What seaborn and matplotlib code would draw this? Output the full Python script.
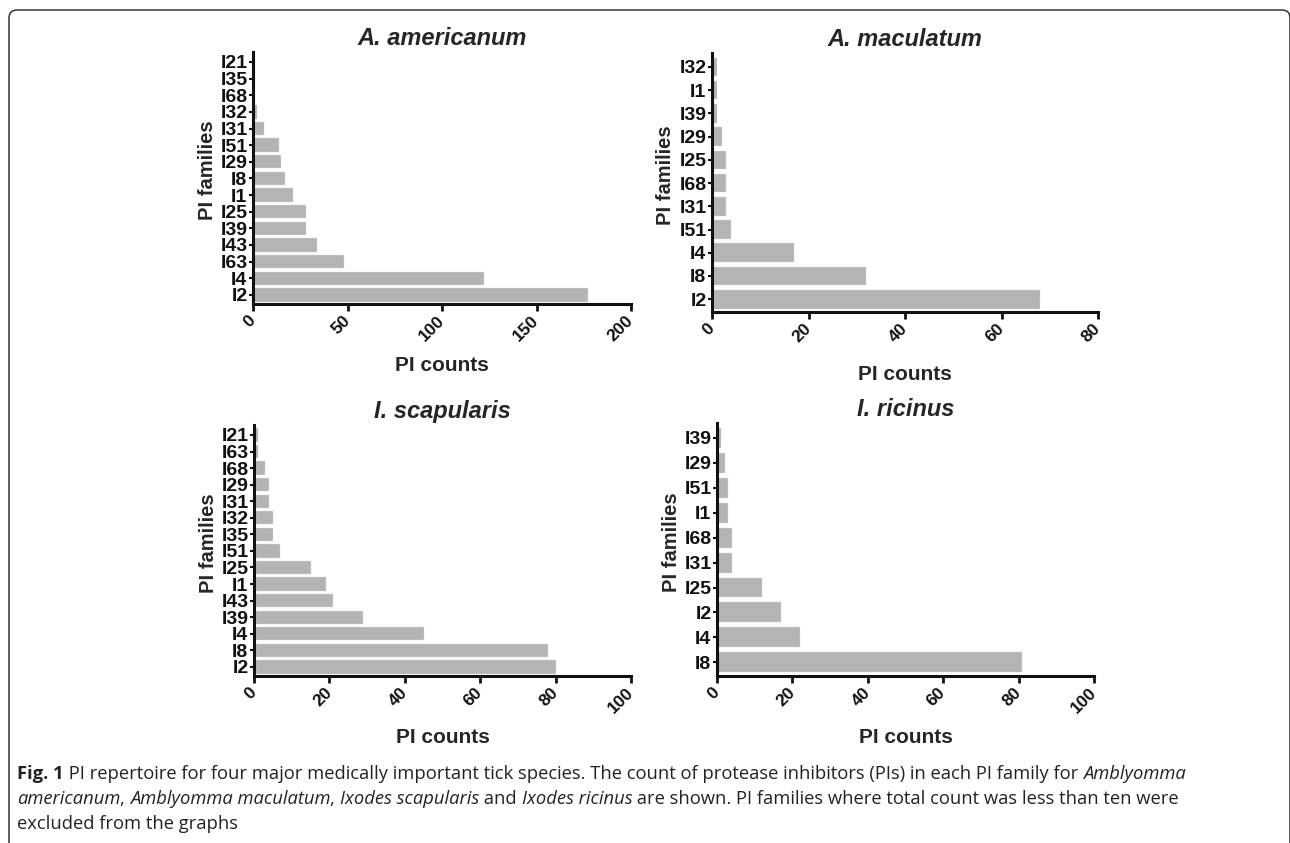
import matplotlib
matplotlib.use('Agg')
import matplotlib.pyplot as plt
import seaborn as sns
import pandas as pd
from matplotlib.patches import FancyBboxPatch

# PI counts per family, listed top-to-bottom as in the figure
am_families = ['I21', 'I35', 'I68', 'I32', 'I31', 'I51', 'I29', 'I8', 'I1',
               'I25', 'I39', 'I43', 'I63', 'I4', 'I2']
am_counts = [1, 1, 1, 2, 6, 14, 15, 17, 21, 28, 28, 34, 48, 122, 177]

mac_families = ['I32', 'I1', 'I39', 'I29', 'I25', 'I68', 'I31', 'I51', 'I4', 'I8', 'I2']
mac_counts = [1, 1, 1, 2, 3, 3, 3, 4, 17, 32, 68]

sc_families = ['I21', 'I63', 'I68', 'I29', 'I31', 'I32', 'I35', 'I51', 'I25',
               'I1', 'I43', 'I39', 'I4', 'I8', 'I2']
sc_counts = [1, 1, 3, 4, 4, 5, 5, 7, 15, 19, 21, 29, 45, 78, 80]

ric_families = ['I39', 'I29', 'I51', 'I1', 'I68', 'I31', 'I25', 'I2', 'I4', 'I8']
ric_counts = [1, 2, 3, 3, 4, 4, 12, 17, 22, 81]

titles = ['A. americanum', 'A. maculatum', 'I. scapularis', 'I. ricinus']
x_max = [200, 80, 100, 100]
x_step = [50, 20, 20, 20]

W, H = 1290, 843
sns.set_style('ticks')
plt.rcParams['font.family'] = ['Liberation Sans', 'DejaVu Sans']
plt.rcParams['font.weight'] = 'bold'
plt.rcParams['axes.labelweight'] = 'bold'
plt.rcParams['axes.titleweight'] = 'bold'

fig = plt.figure(figsize=(W / 100, H / 100), dpi=100)

# axes boxes in pixels: left, right, top, bottom
boxes = [(253, 631, 52, 304), (712, 1098, 53, 312),
         (254, 631, 425, 676), (717, 1094, 423, 676)]
data = [(am_families, am_counts), (mac_families, mac_counts),
        (sc_families, sc_counts), (ric_families, ric_counts)]

for (fam, cnt), title, xm, st, (l, r, t, b) in zip(data, titles, x_max, x_step, boxes):
    ax = fig.add_axes([l / W, 1 - b / H, (r - l) / W, (b - t) / H])
    df = pd.DataFrame({'family': fam, 'count': cnt})
    sns.barplot(data=df, x='count', y='family', orient='h', color='#b4b4b4',
                saturation=1, width=0.8, edgecolor='#dcdcdc', linewidth=0.3, ax=ax)
    n = len(fam)
    ax.set_ylim(n - 0.45, -0.6)
    ax.set_xlim(0, xm)
    ax.set_xticks(range(0, xm + 1, st))
    ax.set_title(title, fontsize=17, style='italic', pad=5)
    ax.set_xlabel('PI counts', fontsize=15)
    ax.set_ylabel('PI families', fontsize=14.5)
    ax.xaxis.set_label_coords(0.5, -0.206)
    ax.yaxis.set_label_coords(-0.096, 0.53)
    sns.despine(ax=ax)
    for s in ['left', 'bottom']:
        ax.spines[s].set_linewidth(2.2)
        ax.spines[s].set_color('#111111')
    ax.tick_params(axis='y', length=3, width=1.5, pad=1, labelsize=14, colors='#111111')
    ax.tick_params(axis='x', length=5, width=2, pad=5, labelsize=12.5, colors='#111111')
    for lbl in ax.get_xticklabels():
        lbl.set_rotation(45)
        lbl.set_ha('right')
        lbl.set_va('center')
        lbl.set_rotation_mode('anchor')

# frame around the figure
frame = FancyBboxPatch((0.09, -0.5), 12.81, 8.33 + 0.5,
                       boxstyle='round,pad=0,rounding_size=0.08',
                       transform=fig.dpi_scale_trans, fill=False,
                       edgecolor='#333333', linewidth=1.1)
fig.patches.append(frame)

# caption, written piece by piece so italics can be mixed in
cap_lines = [
    [('Fig. 1', 'normal', 'bold'),
     (' PI repertoire for four major medically important tick species. The count of protease inhibitors (PIs) in each PI family for ', 'normal', 'normal'),
     ('Amblyomma', 'italic', 'normal')],
    [('americanum', 'italic', 'normal'), (', ', 'normal', 'normal'),
     ('Amblyomma maculatum', 'italic', 'normal'), (', ', 'normal', 'normal'),
     ('Ixodes scapularis', 'italic', 'normal'), (' and ', 'normal', 'normal'),
     ('Ixodes ricinus', 'italic', 'normal'),
     (' are shown. PI families where total count was less than ten were', 'normal', 'normal')],
    [('excluded from the graphs', 'normal', 'normal')],
]
baselines = [779, 804, 829]
renderer = fig.canvas.get_renderer()
for pieces, yb in zip(cap_lines, baselines):
    x = 17
    for txt, sty, wt in pieces:
        tt = fig.text(x / W, 1 - yb / H, txt, fontsize=13.2, style=sty, weight=wt,
                      family=['Open Sans', 'DejaVu Sans'], color='#222222',
                      va='baseline', ha='left')
        x += tt.get_window_extent(renderer).width

fig.savefig('out.png', dpi=100)
